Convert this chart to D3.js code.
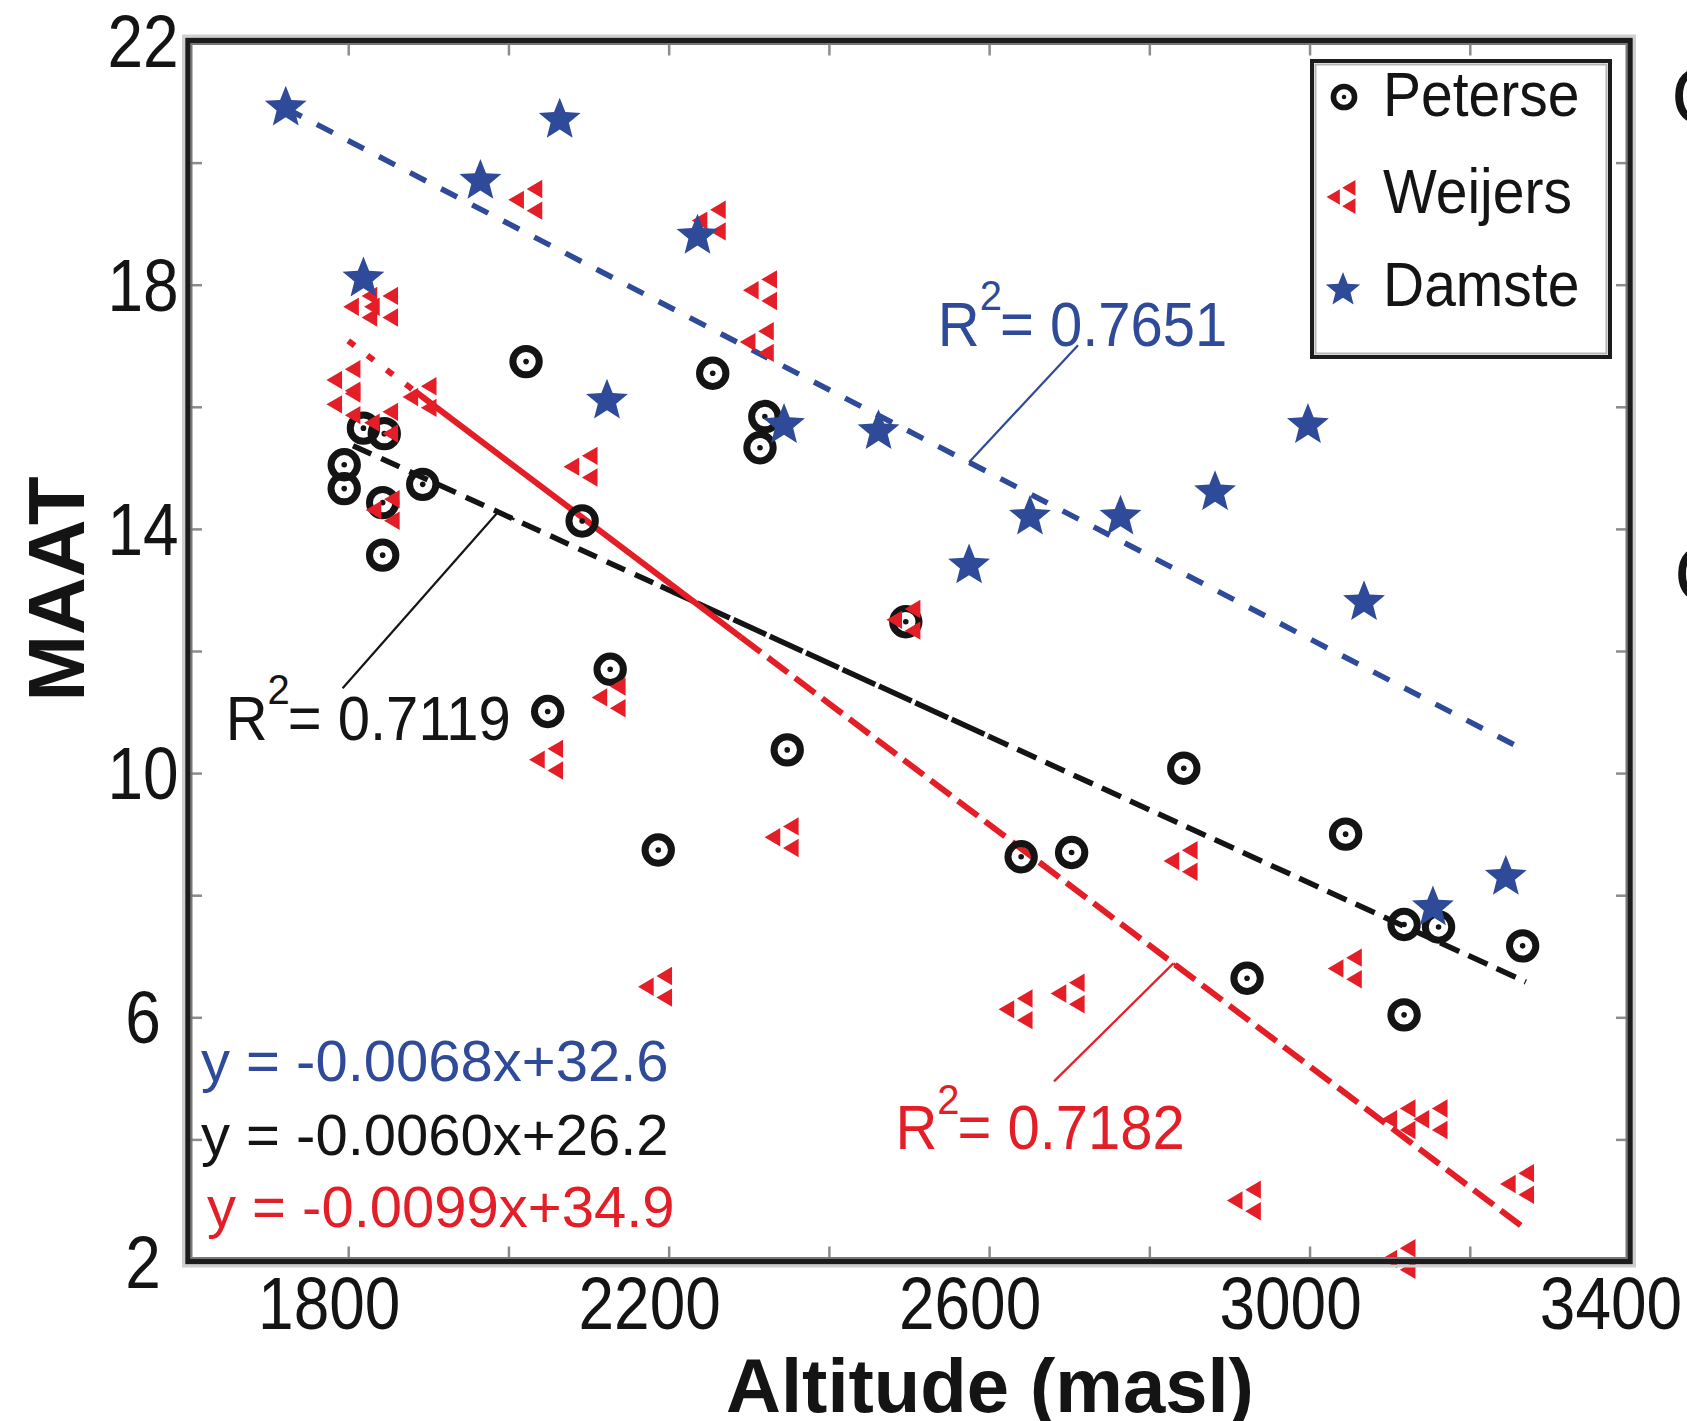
<!DOCTYPE html>
<html>
<head>
<meta charset="utf-8">
<script src="https://cdn.jsdelivr.net/npm/d3@7"></script>
<style>
	body { margin: 0; background: #fff; }
	text { font-family: "Liberation Sans", Arial, sans-serif; }
</style>
</head>
<body>
<div id="chart-area"></div>
<script>

// values: altitude (masl) vs MAAT
let peterseAlt  = [2022, 2255, 2320, 2314, 1819, 1845, 1795, 1795, 1843, 1893, 1843, 2092, 2127,
                   2049, 2348, 2187, 2496, 2843, 2640, 2703, 3045, 2922, 3118, 3161, 3266, 3118];
let peterseMaat = [16.74, 16.55, 15.84, 15.33, 15.65, 15.56, 15.05, 14.66, 14.43, 14.73, 13.57, 14.13, 11.70,
                   11.01, 10.38, 8.74, 12.48, 10.08, 8.63, 8.70, 9.00, 6.64, 7.52, 7.48, 7.17, 6.04];

let weijersAlt  = [2021, 2250, 2314, 2310, 1815, 1841, 1794, 1794, 1841, 1889, 2090, 1843, 2125,
                   2047, 2341, 2493, 2183, 2839, 3044, 2633, 2698, 2918, 3111, 3151, 3259, 3111];
let weijersMaat = [19.39, 19.05, 17.91, 17.06, 17.64, 17.64, 16.44, 16.04, 15.74, 16.16, 15.02, 14.31, 11.24,
                   10.22, 8.95, 12.51, 6.50, 8.56, 6.80, 6.13, 6.39, 3.00, 4.33, 4.33, 3.27, 2.04];

let damsteAlt  = [1722, 2064, 1965, 2236, 1819, 2123, 2344, 2462, 2998, 2882, 2651, 2764, 2575, 3068, 3245, 3154];
let damsteMaat = [20.9, 20.7, 19.7, 18.8, 18.1, 16.1, 15.7, 15.6, 15.7, 14.6, 14.2, 14.2, 13.4, 12.8, 8.3, 7.8];

// linear fits as printed on the chart
let fitNames      = ["Damste", "Peterse", "Weijers"];
let fitSlopes     = [-0.0068, -0.0060, -0.0099];
let fitIntercepts = [32.6, 26.2, 34.9];
let fitFrom       = [1722, 1806, 1800];
let fitTo         = [3260, 3270, 3265];
let fitR2         = ["0.7651", "0.7119", "0.7182"];
let fitEquations  = ["y = -0.0068x+32.6", "y = -0.0060x+26.2", "y = -0.0099x+34.9"];

// axis ticks
let xTickLabels = [1800, 2200, 2600, 3000, 3400];
let xMinorTicks = [1800, 2000, 2200, 2400, 2600, 2800, 3000, 3200];
let yTickLabels = [22, 18, 14, 10, 6, 2];
let yMinorTicks = [4, 6, 8, 10, 12, 14, 16, 18, 20];

let legendNames = ["Peterse", "Weijers", "Damste"];


// colours
let colBlue = "#2e4a98";
let colRed = "#e31e27";
let colBlack = "#141414";
let fitColors = [colBlue, colBlack, colRed];

let W = 1687, H = 1421;
let box = {left: 188, right: 1630, top: 40.5, bottom: 1261.5};

let svg = d3.select("#chart-area").append("svg")
	.attr("width", W)
	.attr("height", H)
	.style("display", "block");

svg.append("rect").attr("width", W).attr("height", H).attr("fill", "#fff");

let x = d3.scaleLinear().domain([1600, 3400]).range([box.left, box.right]);
let y = d3.scaleLinear().domain([2, 22]).range([box.bottom, box.top]);

// text helper: the original lettering is slightly stretched vertically
function addText(g, px, py, str, size, opts) {
	opts = opts || {};
	return g.append("text")
		.attr("transform", "translate(" + px + "," + py + ") scale(" + (opts.sx || 1) + "," + (opts.sy || 1) + ")")
		.attr("font-size", size)
		.attr("font-weight", opts.bold ? "bold" : "normal")
		.attr("text-anchor", opts.anchor || "start")
		.attr("fill", opts.color || colBlack)
		.text(str);
}

// ---- inner tick marks (all four sides)
let tickStyle = sel => {
	sel.select(".domain").remove();
	sel.selectAll(".tick line").attr("stroke", "#8c8c8c").attr("stroke-width", 2.5);
};
svg.append("g").attr("transform", "translate(0," + box.bottom + ")")
	.call(d3.axisBottom(x).tickValues(xMinorTicks).tickSize(-15).tickFormat("")).call(tickStyle);
svg.append("g").attr("transform", "translate(0," + box.top + ")")
	.call(d3.axisTop(x).tickValues(xMinorTicks).tickSize(-15).tickFormat("")).call(tickStyle);
svg.append("g").attr("transform", "translate(" + box.left + ",0)")
	.call(d3.axisLeft(y).tickValues(yMinorTicks).tickSize(-14).tickFormat("")).call(tickStyle);
svg.append("g").attr("transform", "translate(" + box.right + ",0)")
	.call(d3.axisRight(y).tickValues(yMinorTicks).tickSize(-14).tickFormat("")).call(tickStyle);

// tick labels
let tickLabels = svg.append("g");
xTickLabels.forEach(v => addText(tickLabels, x(v) - 19, 1329, v, 64, {anchor: "middle", sy: 1.15}));
yTickLabels.forEach(v => addText(tickLabels, 143, y(v) + 26, v, 64, {anchor: "middle", sy: 1.15}));

// axis titles
svg.append("text")
	.attr("transform", "translate(84,589) rotate(-90)")
	.attr("font-size", 80).attr("font-weight", "bold")
	.attr("text-anchor", "middle").attr("fill", colBlack)
	.text("MAAT");
addText(svg, 990, 1412, "Altitude (masl)", 76, {bold: true, anchor: "middle"});

// ---- regression lines (drawn in pieces, the dash rhythm changes along each line)
function drawFit(k, from, to, dash, width) {
	let pts = [from, to].map(a => [x(a), y(fitSlopes[k] * a + fitIntercepts[k])]);
	svg.append("path")
		.attr("d", d3.line()(pts))
		.attr("fill", "none")
		.attr("stroke", fitColors[k])
		.attr("stroke-width", width)
		.attr("stroke-dasharray", dash);
}
let lines = [
	[0, fitFrom[0], fitTo[0], "18,17", 5.5],
	[1, fitFrom[1], 2190, "20,11", 5.5],
	[1, 2190, 2600, "36,4", 5.5],
	[1, 2600, fitTo[1], "21,10", 5.5],
	[2, fitFrom[2], 1885, "8,16", 6],
	[2, 1885, 2290, null, 6],
	[2, 2290, fitTo[2], "25,9", 6]
];
lines.forEach(l => drawFit(l[0], l[1], l[2], l[3], l[4]));

// ---- marker shapes
function starPath(R, r) {
	let pts = d3.range(10).map(i => {
		let a = -Math.PI / 2 + i * Math.PI / 5;
		let rad = i % 2 === 0 ? R : r;
		return [rad * Math.cos(a), rad * Math.sin(a)];
	});
	return d3.line()(pts) + "Z";
}
// hollow left-pointing triangle rendered as its three filled corners
function weijersPath(w, h, t) {
	let V = [[-w, 0], [w, -h], [w, h]];
	return V.map((v, i) => {
		let a = V[(i + 1) % 3], b = V[(i + 2) % 3];
		let p1 = [v[0] + t * (a[0] - v[0]), v[1] + t * (a[1] - v[1])];
		let p2 = [v[0] + t * (b[0] - v[0]), v[1] + t * (b[1] - v[1])];
		return d3.line()([v, p1, p2]) + "Z";
	}).join("");
}

function drawPeterse(g, cx, cy, s) {
	g.append("circle").attr("cx", cx).attr("cy", cy).attr("r", 13.2 * s)
		.attr("fill", "none").attr("stroke", colBlack).attr("stroke-width", 7 * s);
	g.append("circle").attr("cx", cx).attr("cy", cy).attr("r", 2.8 * s).attr("fill", colBlack);
}
function drawWeijers(g, cx, cy, s) {
	g.append("path").attr("transform", "translate(" + cx + "," + cy + ") scale(" + s + ")")
		.attr("d", weijersPath(17, 20, 0.46)).attr("fill", colRed);
}
function drawDamste(g, cx, cy, s) {
	g.append("path").attr("transform", "translate(" + cx + "," + cy + ") scale(" + s + ")")
		.attr("d", starPath(22, 9.6)).attr("fill", colBlue);
}

let marks = svg.append("g");
peterseAlt.forEach((a, i) => drawPeterse(marks, x(a), y(peterseMaat[i]), 1));
weijersAlt.forEach((a, i) => drawWeijers(marks, x(a), y(weijersMaat[i]), 1));
damsteAlt.forEach((a, i) => drawDamste(marks, x(a), y(damsteMaat[i]), 1));

// ---- R^2 annotations with leader lines
// [label alt, label maat, leader start alt, leader start maat, leader tip alt]
let r2Layout = [
	[2536, 17.0, 2711, 17.01, 2575],
	[1647, 10.54, 1793, 11.39, 1987],
	[2483, 3.84, 2681, 4.95, 2830]
];
r2Layout.forEach((p, k) => {
	let tipX = x(p[4]), tipY = y(fitSlopes[k] * p[4] + fitIntercepts[k]);
	svg.append("line")
		.attr("x1", x(p[2])).attr("y1", y(p[3]))
		.attr("x2", tipX).attr("y2", tipY)
		.attr("stroke", fitColors[k]).attr("stroke-width", 2.2);
	// small hook where the leader meets the fit line
	let nx = x(p[4] + 40), ny = y(fitSlopes[k] * (p[4] + 40) + fitIntercepts[k]);
	let ang = Math.atan2(ny - tipY, nx - tipX);
	svg.append("line")
		.attr("x1", tipX).attr("y1", tipY)
		.attr("x2", tipX + 18 * Math.cos(ang)).attr("y2", tipY + 18 * Math.sin(ang))
		.attr("stroke", fitColors[k]).attr("stroke-width", 2.5);

	let t = svg.append("text")
		.attr("transform", "translate(" + x(p[0]) + "," + y(p[1]) + ") scale(1,1.08)")
		.attr("font-size", 58)
		.attr("fill", fitColors[k]);
	t.append("tspan").text("R");
	t.append("tspan").attr("font-size", 40).attr("dy", -33).text("2");
	t.append("tspan").attr("dy", 33).attr("dx", -2).text("= " + fitR2[k]);
});

// ---- equations, bottom left
let eqBase = [1081, 1155, 1227];
let eqLeft = [201, 201, 207];
fitEquations.forEach((e, k) => addText(svg, eqLeft[k], eqBase[k], e, 58, {color: fitColors[k]}));

// ---- axes frame
svg.append("rect")
	.attr("x", box.left - 4.5).attr("y", box.top - 4.5)
	.attr("width", box.right - box.left + 9).attr("height", box.bottom - box.top + 9)
	.attr("fill", "none").attr("stroke", "#cfcfcf").attr("stroke-width", 3);
svg.append("rect")
	.attr("x", box.left).attr("y", box.top)
	.attr("width", box.right - box.left).attr("height", box.bottom - box.top)
	.attr("fill", "none").attr("stroke", "#1c1c1c").attr("stroke-width", 5.5);
svg.append("rect")
	.attr("x", box.left + 3.5).attr("y", box.top + 3.5)
	.attr("width", box.right - box.left - 7).attr("height", box.bottom - box.top - 7)
	.attr("fill", "none").attr("stroke", "#777").attr("stroke-width", 2);

// ---- legend
let legend = svg.append("g");
legend.append("rect")
	.attr("x", 1312).attr("y", 61).attr("width", 298).attr("height", 296)
	.attr("fill", "#fff").attr("stroke", "#1c1c1c").attr("stroke-width", 4);
legend.append("rect")
	.attr("x", 1315.5).attr("y", 64.5).attr("width", 291).attr("height", 289)
	.attr("fill", "none").attr("stroke", "#b5b5b5").attr("stroke-width", 2);
let legendY = [97, 197, 290];
let legendBase = [116, 213, 306];
drawPeterse(legend, 1344, legendY[0], 0.8);
drawWeijers(legend, 1341, legendY[1], 0.85);
drawDamste(legend, 1343, legendY[2], 0.82);
legendNames.forEach((n, i) => addText(legend, 1383, legendBase[i], n, 57, {sy: 1.1}));

// clipped panel letters of the neighbouring figure at the right edge
addText(svg, 1671, 124, "C", 82);
addText(svg, 1674, 602, "C", 82);

</script>
</body>
</html>
